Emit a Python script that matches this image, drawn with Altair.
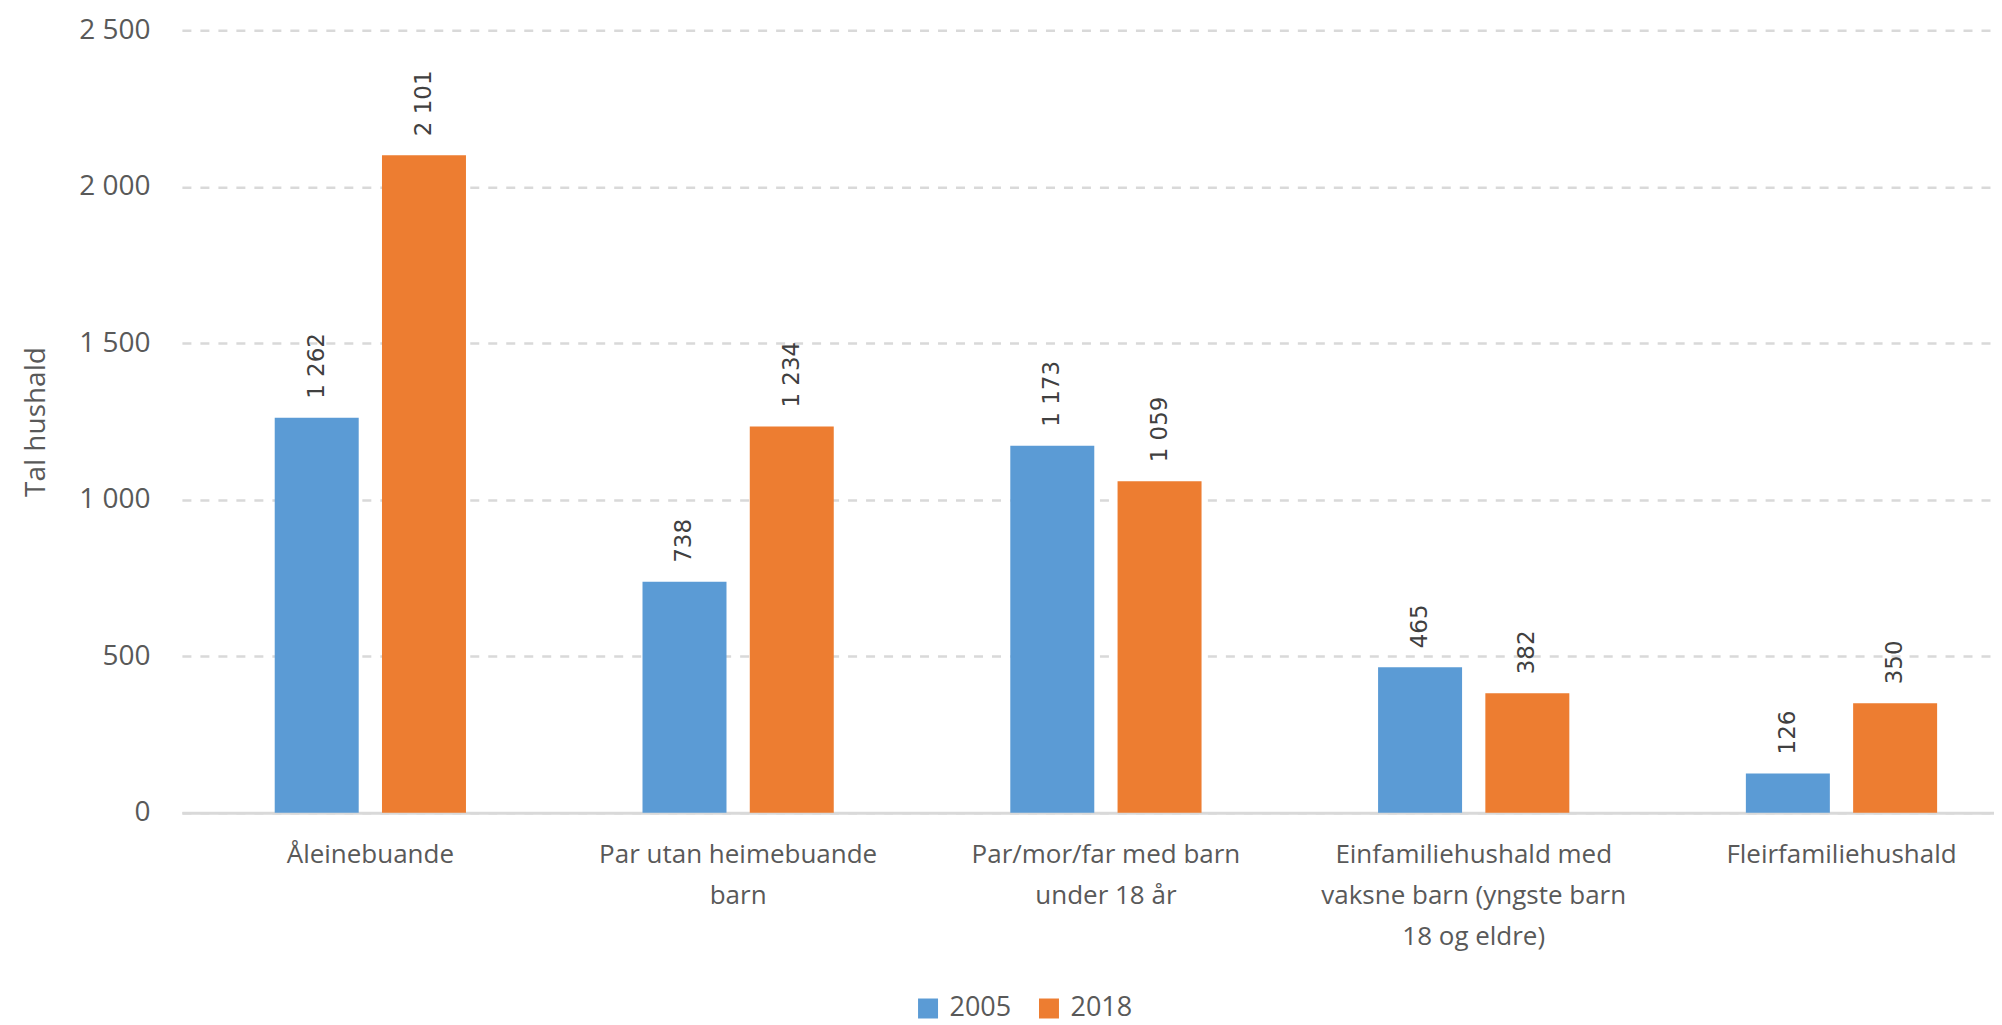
import altair as alt
import pandas as pd

category_lines = [
    ["Åleinebuande"],
    ["Par utan heimebuande", "barn"],
    ["Par/mor/far med barn", "under 18 år"],
    ["Einfamiliehushald med", "vaksne barn (yngste barn", "18 og eldre)"],
    ["Fleirfamiliehushald"],
]
years = ["2005", "2018"]
values_2005 = [1262, 738, 1173, 465, 126]
values_2018 = [2101, 1234, 1059, 382, 350]
colors = ["#5B9BD5", "#ED7D31"]
y_ticks = [0, 500, 1000, 1500, 2000, 2500]

keys = ["|".join(l) for l in category_lines]
rows = []
for k, v05, v18 in zip(keys, values_2005, values_2018):
    rows.append({"kategori": k, "år": "2005", "tal": v05})
    rows.append({"kategori": k, "år": "2018", "tal": v18})
df = pd.DataFrame(rows)

FONT = "Open Sans"
GRAY = "#595959"

x = alt.X(
    "kategori:N",
    sort=keys,
    title=None,
    scale=alt.Scale(paddingInner=0.48, paddingOuter=0.2035, align=0.62),
    axis=alt.Axis(
        labelExpr="split(datum.label, '|')",
        labelAngle=0,
        labelFont=FONT,
        labelFontSize=26,
        labelColor=GRAY,
        labelLineHeight=41,
        labelPadding=29,
        labelLimit=0,
        ticks=False,
        domain=True,
        domainColor="#D9D9D9",
        domainWidth=3,
        grid=False,
    ),
)
xoff = alt.XOffset("år:N", sort=years, scale=alt.Scale(paddingInner=0.217, paddingOuter=0))
y = alt.Y(
    "tal:Q",
    title="Tal hushald",
    scale=alt.Scale(domain=[0, 2500], nice=False),
    axis=alt.Axis(
        values=y_ticks,
        labelExpr="replace(format(datum.value, ','), ',', ' ')",
        labelFont=FONT,
        labelFontSize=28,
        labelColor=GRAY,
        labelPadding=32,
        ticks=False,
        domain=False,
        grid=True,
        gridColor="#D9D9D9",
        gridWidth=2.5,
        gridDash=[9, 9],
        titleFont=FONT,
        titleFontSize=28,
        titleFontWeight="normal",
        titleColor=GRAY,
        titlePadding=28,
    ),
)
color = alt.Color(
    "år:N",
    sort=years,
    scale=alt.Scale(domain=years, range=colors),
    legend=alt.Legend(
        title=None,
        orient="none",
        legendX=733,
        legendY=965,
        direction="horizontal",
        symbolType="square",
        symbolSize=400,
        symbolStrokeWidth=0,
        labelFont=FONT,
        labelFontSize=27,
        labelColor=GRAY,
        labelOffset=8,
        columnPadding=24,
        padding=0,
    ),
)

base = alt.Chart(df)
bars = base.mark_bar().encode(x=x, xOffset=xoff, y=y, color=color)
labels = base.mark_text(
    angle=270, align="left", baseline="middle", dx=19,
    font="DejaVu Sans", fontSize=23, color="#404040",
).transform_calculate(
    txt="replace(format(datum.tal, ','), ',', ' ')"
).encode(x=x, xOffset=xoff, y=y, text="txt:N")

chart = (bars + labels).properties(
    width=1813, height=783,
    padding={"left": 14, "top": 8, "right": 0, "bottom": 2},
).configure_view(stroke=None)

chart.save("out.html", embed_options={"renderer": "svg", "actions": False})
